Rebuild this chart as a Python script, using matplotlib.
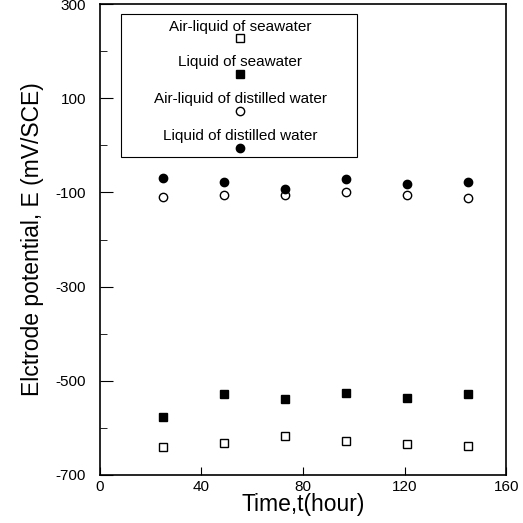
# Electrode potential vs time for the four immersion conditions
import numpy as np
import matplotlib.pyplot as plt
from matplotlib.patches import Rectangle

plt.rcParams['font.family'] = ['Liberation Sans', 'DejaVu Sans']
plt.rcParams['axes.unicode_minus'] = False

# time of each measurement (hour)
time_h = [25, 49, 73, 97, 121, 145]

# potentials in mV/SCE
air_liquid_sea = [-641, -632, -618, -629, -635, -638]
liquid_sea = [-577, -528, -539, -525, -537, -528]
air_liquid_dist = [-109, -106, -105, -99, -105, -112]
liquid_dist = [-70, -77, -92, -72, -81, -77]

labels = ['Air-liquid of seawater', 'Liquid of seawater',
          'Air-liquid of distilled water', 'Liquid of distilled water']
markers = ['s', 's', 'o', 'o']
faces = ['white', 'black', 'white', 'black']
series = [air_liquid_sea, liquid_sea, air_liquid_dist, liquid_dist]

fig = plt.figure(figsize=(5.23, 5.23), dpi=100)
ax = fig.add_axes([0.191, 0.092, 0.777, 0.9])

for vals, m, fc in zip(series, markers, faces):
    ax.plot(time_h, vals, linestyle='none', marker=m, markersize=6,
            markerfacecolor=fc, markeredgecolor='black', markeredgewidth=1)

ax.set_xlim(0, 160)
ax.set_ylim(-700, 300)
ax.set_xticks([0, 40, 80, 120, 160])
ax.set_yticks([-700, -500, -300, -100, 100, 300])
ax.set_yticks([-600, -400, -200, 0, 200], minor=True)
ax.tick_params(axis='both', which='major', direction='in', labelsize=11)
ax.tick_params(axis='y', which='major', length=9, pad=10)
ax.tick_params(axis='y', which='minor', direction='in', length=5)
ax.tick_params(axis='x', which='major', length=6, pad=4)
for s in ax.spines.values():
    s.set_linewidth(1.2)

ax.set_xlabel('Time,t(hour)', fontsize=16.5, labelpad=-1)
ax.set_ylabel('Elctrode potential, E (mV/SCE)', fontsize=16.5, labelpad=8)

# legend box with each marker drawn below its label
ax.add_patch(Rectangle((0.053, 0.676), 0.579, 0.303, transform=ax.transAxes,
                       fill=False, edgecolor='black', linewidth=0.8))
text_y = [0.951, 0.877, 0.798, 0.720]
mark_y = [0.928, 0.851, 0.773, 0.694]
for lab, m, fc, ty, my in zip(labels, markers, faces, text_y, mark_y):
    ax.text(0.345, ty, lab, transform=ax.transAxes, ha='center',
            va='center', fontsize=11)
    ax.plot([0.345], [my], transform=ax.transAxes, linestyle='none',
            marker=m, markersize=6, markerfacecolor=fc,
            markeredgecolor='black', markeredgewidth=1)

fig.savefig('out.png', dpi=100)
